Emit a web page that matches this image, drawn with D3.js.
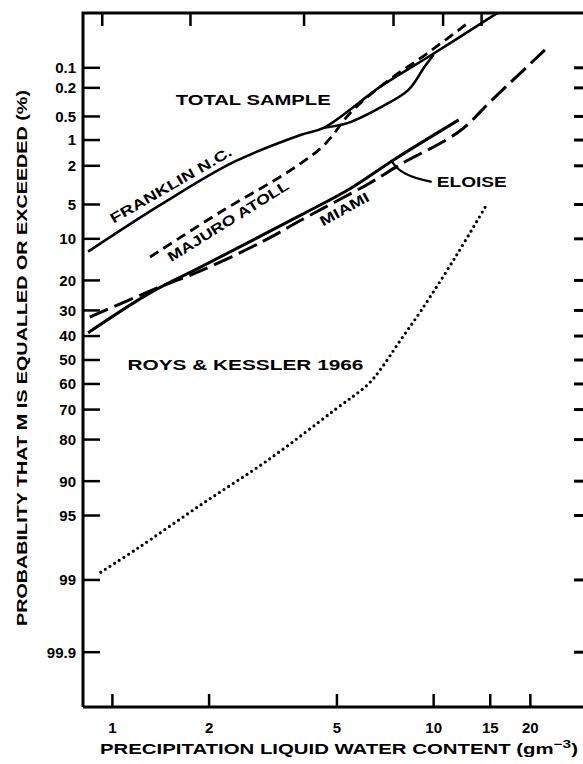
<!DOCTYPE html>
<html>
<head>
<meta charset="utf-8">
<script src="https://cdn.jsdelivr.net/npm/d3@7"></script>
<style>
  body { margin: 0; background: #fff; }
  svg text { font-family: "Liberation Sans", Arial, sans-serif; font-weight: bold; fill: #000; }
</style>
</head>
<body>
<div id="chart"></div>
<script>
// probability (%) that M is equalled or exceeded, vs liquid water content (g m^-3)
const xTicks = [1, 2, 5, 10, 15, 20];
const topTicks = [0.93, 1.75, 3.95, 7.5, 10.7, 14.1];
const pTicks = [0.1, 0.2, 0.5, 1, 2, 5, 10, 20, 30, 40, 50, 60, 70, 80, 90, 95, 99, 99.9];

const franklin = [
    { x: 0.84, p: 12.6 }, { x: 1.41, p: 5.05 }, { x: 2.39, p: 1.81 },
    { x: 3.87, p: 0.86 }, { x: 4.56, p: 0.70 }, { x: 6.88, p: 0.187 },
    { x: 9.64, p: 0.067 }, { x: 15.5, p: 0.013 }, { x: 16.2, p: 0.011 }
];
const franklinBend = [
    { x: 4.56, p: 0.70 }, { x: 5.42, p: 0.607 }, { x: 6.88, p: 0.371 },
    { x: 8.35, p: 0.214 }, { x: 9.37, p: 0.0965 }, { x: 10.0, p: 0.0624 }
];
const majuro = [
    { x: 1.31, p: 13.8 }, { x: 2.17, p: 5.87 }, { x: 3.60, p: 2.22 },
    { x: 4.56, p: 1.15 }, { x: 5.54, p: 0.434 }, { x: 7.13, p: 0.163 },
    { x: 9.51, p: 0.060 }, { x: 12.7, p: 0.0188 }
];
const eloise = [
    { x: 0.84, p: 38.7 }, { x: 1.31, p: 23.9 }, { x: 1.88, p: 16.3 },
    { x: 3.87, p: 6.25 }, { x: 5.54, p: 3.44 }, { x: 7.50, p: 1.72 },
    { x: 11.97, p: 0.555 }
];
const miami = [
    { x: 0.85, p: 32.5 }, { x: 1.38, p: 22.3 }, { x: 1.88, p: 17.3 },
    { x: 2.96, p: 10.4 }, { x: 3.87, p: 6.93 }, { x: 6.26, p: 3.13 },
    { x: 7.94, p: 1.90 }, { x: 11.97, p: 0.79 }, { x: 15.2, p: 0.297 },
    { x: 22.2, p: 0.052 }
];
const roysKessler = [
    { x: 0.92, p: 98.76 }, { x: 1.20, p: 97.67 }, { x: 1.88, p: 93.75 },
    { x: 3.05, p: 85.5 }, { x: 4.91, p: 70.2 }, { x: 6.26, p: 60.0 },
    { x: 6.88, p: 53.4 }, { x: 7.77, p: 42.9 }, { x: 9.17, p: 29.8 },
    { x: 11.8, p: 13.3 }, { x: 14.6, p: 5.05 }
];

// inverse of the standard normal CDF (Acklam)
function qnorm(p) {
    const a = [-3.969683028665376e+01, 2.209460984245205e+02, -2.759285104469687e+02, 1.383577518672690e+02, -3.066479806614716e+01, 2.506628277459239e+00];
    const b = [-5.447609879822406e+01, 1.615858368580409e+02, -1.556989798598866e+02, 6.680131188771972e+01, -1.328068155288572e+01];
    const c = [-7.784894002430293e-03, -3.223964580411365e-01, -2.400758277161838e+00, -2.549732539343734e+00, 4.374664141464968e+00, 2.938163982698783e+00];
    const d = [7.784695709041462e-03, 3.224671290700398e-01, 2.445134137142996e+00, 3.754408661907416e+00];
    const pl = 0.02425;
    let q, r;
    if (p < pl) {
        q = Math.sqrt(-2 * Math.log(p));
        return (((((c[0]*q+c[1])*q+c[2])*q+c[3])*q+c[4])*q+c[5]) / ((((d[0]*q+d[1])*q+d[2])*q+d[3])*q+1);
    }
    if (p <= 1 - pl) {
        q = p - 0.5; r = q * q;
        return (((((a[0]*r+a[1])*r+a[2])*r+a[3])*r+a[4])*r+a[5])*q / (((((b[0]*r+b[1])*r+b[2])*r+b[3])*r+b[4])*r+1);
    }
    q = Math.sqrt(-2 * Math.log(1 - p));
    return -(((((c[0]*q+c[1])*q+c[2])*q+c[3])*q+c[4])*q+c[5]) / ((((d[0]*q+d[1])*q+d[2])*q+d[3])*q+1);
}

const size = { width: 583, height: 764 };
const frame = { left: 83, right: 586, top: 13, bottom: 707 };

const xScale = d3.scaleLog()
    .domain([0.81, 29.8])
    .range([frame.left, frame.right]);

const zScale = d3.scaleLinear()
    .domain([-3.67, 3.67])
    .range([frame.top, frame.bottom]);
const yScale = p => zScale(qnorm(p / 100));

const svg = d3.select('#chart').append('svg')
    .attr('width', size.width)
    .attr('height', size.height)
    .attr('viewBox', [0, 0, size.width, size.height]);

const plot = svg.append('g');
svg.append('clipPath').attr('id', 'clip')
    .append('rect')
    .attr('x', frame.left).attr('y', frame.top)
    .attr('width', frame.right - frame.left).attr('height', frame.bottom - frame.top);

// frame
plot.append('path')
    .attr('d', `M${frame.left},${frame.bottom}V${frame.top}H${frame.right + 5}M${frame.left},${frame.bottom}H${frame.right + 5}`)
    .attr('fill', 'none').attr('stroke', '#000').attr('stroke-width', 3);

// left ticks + labels, bare ticks on the right
plot.selectAll('.ltick').data(pTicks).join('line')
    .attr('x1', frame.left).attr('x2', frame.left + 17)
    .attr('y1', d => yScale(d)).attr('y2', d => yScale(d))
    .attr('stroke', '#000').attr('stroke-width', 2.5);
plot.selectAll('.rtick').data(pTicks).join('line')
    .attr('x1', frame.right - 12).attr('x2', frame.right)
    .attr('y1', d => yScale(d)).attr('y2', d => yScale(d))
    .attr('stroke', '#000').attr('stroke-width', 3);
plot.selectAll('.llab').data(pTicks).join('text')
    .attr('x', 76).attr('y', d => yScale(d))
    .attr('dy', '0.36em')
    .attr('text-anchor', 'end')
    .attr('font-size', 15)
    .text(d => d);

// bottom ticks + labels
plot.selectAll('.btick').data(xTicks).join('line')
    .attr('x1', d => xScale(d)).attr('x2', d => xScale(d))
    .attr('y1', frame.bottom).attr('y2', frame.bottom - 13)
    .attr('stroke', '#000').attr('stroke-width', 2.5);
plot.selectAll('.blab').data(xTicks).join('text')
    .attr('x', d => xScale(d)).attr('y', 733)
    .attr('text-anchor', 'middle')
    .attr('font-size', 15)
    .text(d => d);

// top ticks
plot.selectAll('.ttick').data(topTicks).join('line')
    .attr('x1', d => xScale(d)).attr('x2', d => xScale(d))
    .attr('y1', frame.top).attr('y2', frame.top + 13)
    .attr('stroke', '#000').attr('stroke-width', 2.5);

// axis titles
svg.append('text')
    .attr('transform', 'translate(27,358) rotate(-90)')
    .attr('text-anchor', 'middle')
    .attr('font-size', 14.5)
    .attr('textLength', 536).attr('lengthAdjust', 'spacingAndGlyphs')
    .text('PROBABILITY THAT M IS EQUALLED OR EXCEEDED (%)');

const xTitle = svg.append('text')
    .attr('x', 100).attr('y', 754)
    .attr('font-size', 14.5)
    .attr('textLength', 478).attr('lengthAdjust', 'spacingAndGlyphs');
xTitle.append('tspan').text('PRECIPITATION LIQUID WATER CONTENT (gm');
xTitle.append('tspan').attr('dy', -6).attr('font-size', 11).text('−3');
xTitle.append('tspan').attr('dy', 6).text(')');

// curves
const line = d3.line()
    .x(d => xScale(d.x))
    .y(d => yScale(d.p))
    .curve(d3.curveCatmullRom.alpha(0.5));

const curves = plot.append('g').attr('clip-path', 'url(#clip)');
const series = [
    { data: franklin, dash: null, width: 2.6 },
    { data: franklinBend, dash: null, width: 2.6 },
    { data: majuro, dash: '10,6', width: 2.8 },
    { data: eloise, dash: null, width: 3 },
    { data: miami, dash: '20,7', width: 3 },
    { data: roysKessler, dash: '0,5.5', width: 3.2, cap: 'round' }
];
curves.selectAll('path').data(series).join('path')
    .attr('d', d => line(d.data))
    .attr('fill', 'none')
    .attr('stroke', '#000')
    .attr('stroke-width', d => d.width)
    .attr('stroke-dasharray', d => d.dash)
    .attr('stroke-linecap', d => d.cap || 'butt');

// curve labels, anchored in data units
const labels = [
    { text: 'TOTAL  SAMPLE', x: 1.574, p: 0.297, angle: 0, len: 155, anchor: 'start' },
    { text: 'FRANKLIN N.C.', x: 1.52, p: 3.2, angle: -30, len: 138, anchor: 'middle' },
    { text: 'MAJURO ATOLL', x: 2.29, p: 7.07, angle: -32, len: 140, anchor: 'middle' },
    { text: 'MIAMI', x: 5.27, p: 5.5, angle: -29, len: 54, anchor: 'middle' },
    { text: 'ELOISE', x: 13.14, p: 2.98, angle: 0, len: 70, anchor: 'middle' },
    { text: 'ROYS & KESSLER 1966', x: 1.114, p: 52.1, angle: 0, len: 236, anchor: 'start' }
];
plot.selectAll('.clab').data(labels).join('text')
    .attr('transform', d => `translate(${xScale(d.x)},${yScale(d.p)}) rotate(${d.angle})`)
    .attr('dy', '0.36em')
    .attr('text-anchor', d => d.anchor)
    .attr('font-size', 14)
    .attr('textLength', d => d.len).attr('lengthAdjust', 'spacingAndGlyphs')
    .text(d => d.text);

// leader from the Eloise curve to its label
const leader = [{ x: 7.39, p: 1.72 }, { x: 7.7, p: 2.55 }, { x: 9.86, p: 2.98 }];
const lp = leader.map(d => [xScale(d.x), yScale(d.p)]);
plot.append('path')
    .attr('d', `M${lp[0]}Q${lp[1]} ${lp[2]}`)
    .attr('fill', 'none').attr('stroke', '#000').attr('stroke-width', 2.2);
</script>
</body>
</html>
